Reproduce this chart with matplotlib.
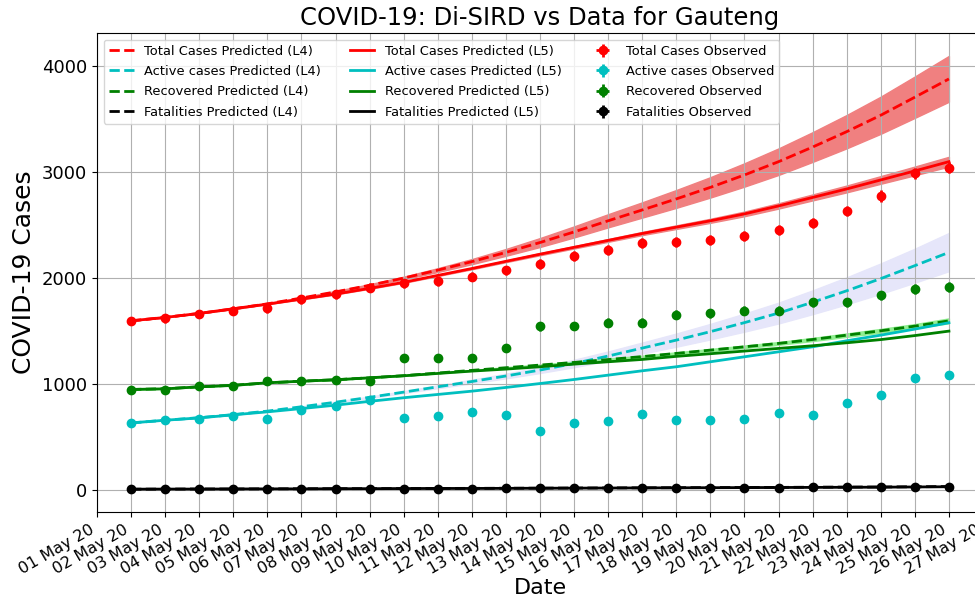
import datetime as dt
import matplotlib
matplotlib.use("Agg")
import matplotlib.pyplot as plt
import matplotlib.dates as mdates
from matplotlib.dates import DateFormatter
import numpy as np

# observed data, 02 May 2020 .. 26 May 2020
start = dt.date(2020, 5, 2)
days = [start + dt.timedelta(days=i) for i in range(25)]

total_obs = [1594, 1620, 1660, 1692, 1714, 1802, 1849, 1909, 1950, 1969, 2013, 2072, 2132,
             2205, 2262, 2328, 2343, 2358, 2398, 2453, 2520, 2632, 2774, 2987, 3042]
active_obs = [632, 660, 670, 701, 670, 752, 796, 855, 682, 701, 742, 706, 562,
              632, 651, 718, 658, 660, 676, 729, 712, 825, 901, 1061, 1089]
recovered_obs = [946, 946, 978, 978, 1034, 1034, 1038, 1034, 1243, 1243, 1243, 1341, 1545,
                 1550, 1581, 1581, 1656, 1668, 1692, 1692, 1774, 1774, 1838, 1897, 1916]
fatal_obs = [9, 10, 10, 11, 12, 12, 13, 14, 15, 16, 16, 17, 18,
             19, 20, 21, 22, 23, 24, 25, 26, 27, 28, 30, 31]

# model L4 (dashed)
total_l4 = [1597, 1630, 1667, 1710, 1757, 1812, 1870, 1932, 2000, 2075, 2155, 2242, 2335,
            2435, 2540, 2642, 2746, 2855, 2972, 3097, 3235, 3380, 3535, 3705, 3877]
total_l4_lo = [1597, 1629, 1665, 1707, 1753, 1806, 1862, 1922, 1987, 2057, 2131, 2210, 2293,
               2383, 2478, 2570, 2662, 2759, 2862, 2972, 3095, 3223, 3360, 3510, 3662]
total_l4_hi = [1597, 1631, 1669, 1713, 1761, 1818, 1878, 1942, 2013, 2093, 2179, 2274, 2377,
               2487, 2602, 2714, 2830, 2951, 3082, 3222, 3375, 3537, 3710, 3900, 4094]
active_l4 = [634, 660, 684, 713, 746, 787, 830, 876, 925, 975, 1025, 1077, 1133,
             1195, 1265, 1340, 1415, 1495, 1580, 1670, 1772, 1880, 1995, 2117, 2242]
active_l4_lo = [634, 659, 683, 711, 743, 783, 825, 869, 916, 962, 1008, 1055, 1105,
                1160, 1222, 1288, 1353, 1422, 1495, 1572, 1660, 1753, 1852, 1957, 2065]
active_l4_hi = [634, 661, 685, 715, 749, 791, 835, 883, 934, 988, 1042, 1099, 1161,
                1230, 1308, 1392, 1477, 1568, 1665, 1768, 1884, 2007, 2138, 2277, 2425]
recovered_l4 = [950, 957, 975, 990, 1012, 1028, 1042, 1060, 1080, 1105, 1130, 1155, 1180,
                1205, 1232, 1260, 1290, 1321, 1352, 1384, 1421, 1462, 1503, 1547, 1597]
recovered_l4_lo = [950, 957, 975, 990, 1012, 1028, 1041, 1059, 1078, 1102, 1126, 1150, 1174,
                   1198, 1224, 1251, 1280, 1310, 1340, 1371, 1406, 1446, 1485, 1528, 1574]
recovered_l4_hi = [950, 957, 975, 990, 1012, 1028, 1043, 1061, 1082, 1108, 1134, 1160, 1186,
                   1212, 1240, 1269, 1300, 1332, 1364, 1397, 1436, 1478, 1521, 1566, 1620]
fatal_l4 = [10, 11, 12, 12, 13, 14, 15, 15, 16, 17, 18, 19, 20,
            21, 22, 23, 24, 25, 26, 27, 29, 30, 31, 33, 35]

# model L5 (solid)
total_l5 = [1597, 1629, 1667, 1711, 1755, 1802, 1849, 1903, 1960, 2025, 2090, 2158, 2225,
            2290, 2355, 2420, 2480, 2540, 2605, 2680, 2760, 2840, 2925, 3010, 3097]
total_l5_lo = [1597, 1628, 1666, 1709, 1753, 1799, 1846, 1899, 1955, 2019, 2083, 2150, 2215,
               2279, 2342, 2405, 2463, 2521, 2583, 2655, 2732, 2808, 2889, 2969, 3051]
total_l5_hi = [1597, 1630, 1668, 1713, 1757, 1805, 1852, 1907, 1965, 2031, 2097, 2166, 2235,
               2301, 2368, 2435, 2497, 2559, 2627, 2705, 2788, 2872, 2961, 3051, 3143]
active_l5 = [635, 660, 682, 711, 739, 770, 802, 838, 872, 903, 934, 969, 1006,
             1044, 1085, 1126, 1164, 1211, 1258, 1305, 1352, 1409, 1462, 1519, 1579]
recovered_l5 = [950, 956, 975, 988, 1013, 1028, 1041, 1060, 1079, 1101, 1123, 1142, 1164,
                1189, 1211, 1233, 1262, 1287, 1312, 1337, 1362, 1390, 1420, 1458, 1500]
fatal_l5 = [10, 11, 11, 12, 13, 13, 14, 15, 16, 17, 17, 18, 19,
            20, 21, 22, 23, 24, 25, 26, 27, 28, 29, 31, 33]

x = mdates.date2num(days)

fig = plt.figure(figsize=(9.75, 6), dpi=100)
ax = fig.add_axes([97 / 975, 88 / 600, (983 - 97) / 975, (512 - 33) / 600])

ax.fill_between(x, total_l4_lo, total_l4_hi, color='lightcoral')
ax.fill_between(x, active_l4_lo, active_l4_hi, color='lavender')
ax.fill_between(x, recovered_l4_lo, recovered_l4_hi, color='lightgreen')
ax.fill_between(x, total_l5_lo, total_l5_hi, color='lightcoral')

ax.plot(x, total_l4, 'r--', lw=2, label='Total Cases Predicted (L4)')
ax.plot(x, active_l4, 'c--', lw=2, label='Active cases Predicted (L4)')
ax.plot(x, recovered_l4, 'g--', lw=2, label='Recovered Predicted (L4)')
ax.plot(x, fatal_l4, 'k--', lw=2, label='Fatalities Predicted (L4)')
ax.plot(x, total_l5, 'r-', lw=2, label='Total Cases Predicted (L5)')
ax.plot(x, active_l5, 'c-', lw=2, label='Active cases Predicted (L5)')
ax.plot(x, recovered_l5, 'g-', lw=2, label='Recovered Predicted (L5)')
ax.plot(x, fatal_l5, 'k-', lw=2, label='Fatalities Predicted (L5)')

obs = [(total_obs, 'r', 'Total Cases Observed'),
       (active_obs, 'c', 'Active cases Observed'),
       (recovered_obs, 'g', 'Recovered Observed'),
       (fatal_obs, 'k', 'Fatalities Observed')]
for vals, col, name in obs:
    vals = np.array(vals)
    ax.errorbar(x, vals, yerr=np.sqrt(vals), xerr=0.05, fmt='o', color=col,
                ms=6, elinewidth=2, capsize=0, label=name)

ax.set_xlim(mdates.date2num(dt.date(2020, 5, 1)), mdates.date2num(dt.date(2020, 5, 27)))
ax.set_ylim(-205, 4310)
ax.xaxis.set_major_locator(mdates.DayLocator())
ax.xaxis.set_major_formatter(DateFormatter('%d %b %y'))
for lab in ax.get_xticklabels():
    lab.set_rotation(30)
    lab.set_ha('right')
ax.tick_params(axis='x', labelsize=11.5)
ax.tick_params(axis='y', labelsize=13)
ax.grid(True)
ax.set_title('COVID-19: Di-SIRD vs Data for Gauteng', fontsize=17.5)
ax.set_xlabel('Date', fontsize=16, labelpad=1)
ax.set_ylabel('COVID-19 Cases', fontsize=18)
ax.legend(loc='upper left', ncol=3, fontsize=9.4, handlelength=1.9,
          columnspacing=2.2, labelspacing=0.56)

plt.savefig('out.png', dpi=100)
